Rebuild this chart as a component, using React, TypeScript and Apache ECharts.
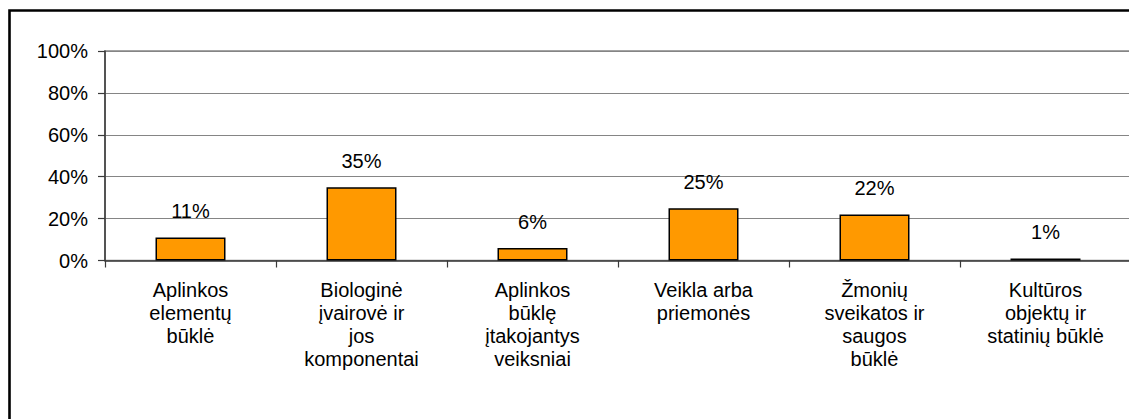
import React, { useEffect, useRef } from "react";
import * as echarts from "echarts";

const categories = [
  "Aplinkos\nelementų\nbūklė",
  "Biologinė\nįvairovė ir\njos\nkomponentai",
  "Aplinkos\nbūklę\nįtakojantys\nveiksniai",
  "Veikla arba\npriemonės",
  "Žmonių\nsveikatos ir\nsaugos\nbūklė",
  "Kultūros\nobjektų ir\nstatinių būklė",
];
const values = [11, 35, 6, 25, 22, 1];
const yMin = 0;
const yMax = 100;
const yStep = 20;

const FONT = "'Liberation Sans', Arial, sans-serif";

export default function App() {
  const ref = useRef<HTMLDivElement>(null);
  useEffect(() => {
    if (!ref.current) return;
    const chart = echarts.init(ref.current, null, { renderer: "svg" });
    chart.setOption({
      animation: false,
      backgroundColor: "#ffffff",
      textStyle: { fontFamily: FONT },
      graphic: [
        {
          type: "rect",
          shape: { x: 1.5, y: 2.5, width: 1200, height: 500 },
          style: { fill: "none", stroke: "#000", lineWidth: 2.6 },
          silent: true,
          z: 100,
        },
      ],
      grid: {
        left: 97,
        top: 43,
        right: 6,
        bottom: 158.5,
        show: true,
        borderColor: "#858585",
        borderWidth: 1.5,
        backgroundColor: "transparent",
      },
      xAxis: {
        type: "category",
        data: categories,
        boundaryGap: true,
        axisLine: { show: true, lineStyle: { color: "#3a3a3a", width: 1.5 } },
        axisTick: { show: true, length: 7, alignWithLabel: false, lineStyle: { color: "#3a3a3a", width: 1.2 } },
        axisLabel: {
          interval: 0,
          margin: 17.5,
          color: "#000",
          fontSize: 20,
          lineHeight: 23,
          fontFamily: FONT,
          align: "center",
        },
      },
      yAxis: {
        type: "value",
        min: yMin,
        max: yMax,
        interval: yStep,
        axisLine: { show: true, lineStyle: { color: "#3a3a3a", width: 1.5 } },
        axisTick: { show: true, length: 7, lineStyle: { color: "#3a3a3a", width: 1.2 } },
        axisLabel: {
          formatter: "{value}%",
          margin: 17,
          color: "#000",
          fontSize: 20,
          fontFamily: FONT,
        },
        splitLine: { show: true, lineStyle: { color: "#858585", width: 1.2 } },
      },
      series: [
        {
          type: "bar",
          data: values,
          barWidth: 70,
          itemStyle: { color: "#FF9900", borderColor: "#000", borderWidth: 1.5 },
          label: {
            show: true,
            position: "top",
            distance: 16,
            formatter: "{c}%",
            color: "#000",
            fontSize: 20,
            fontFamily: FONT,
          },
        },
      ],
    });
    return () => chart.dispose();
  }, []);
  return <div ref={ref} style={{ width: 1129, height: 411 }} />;
}
